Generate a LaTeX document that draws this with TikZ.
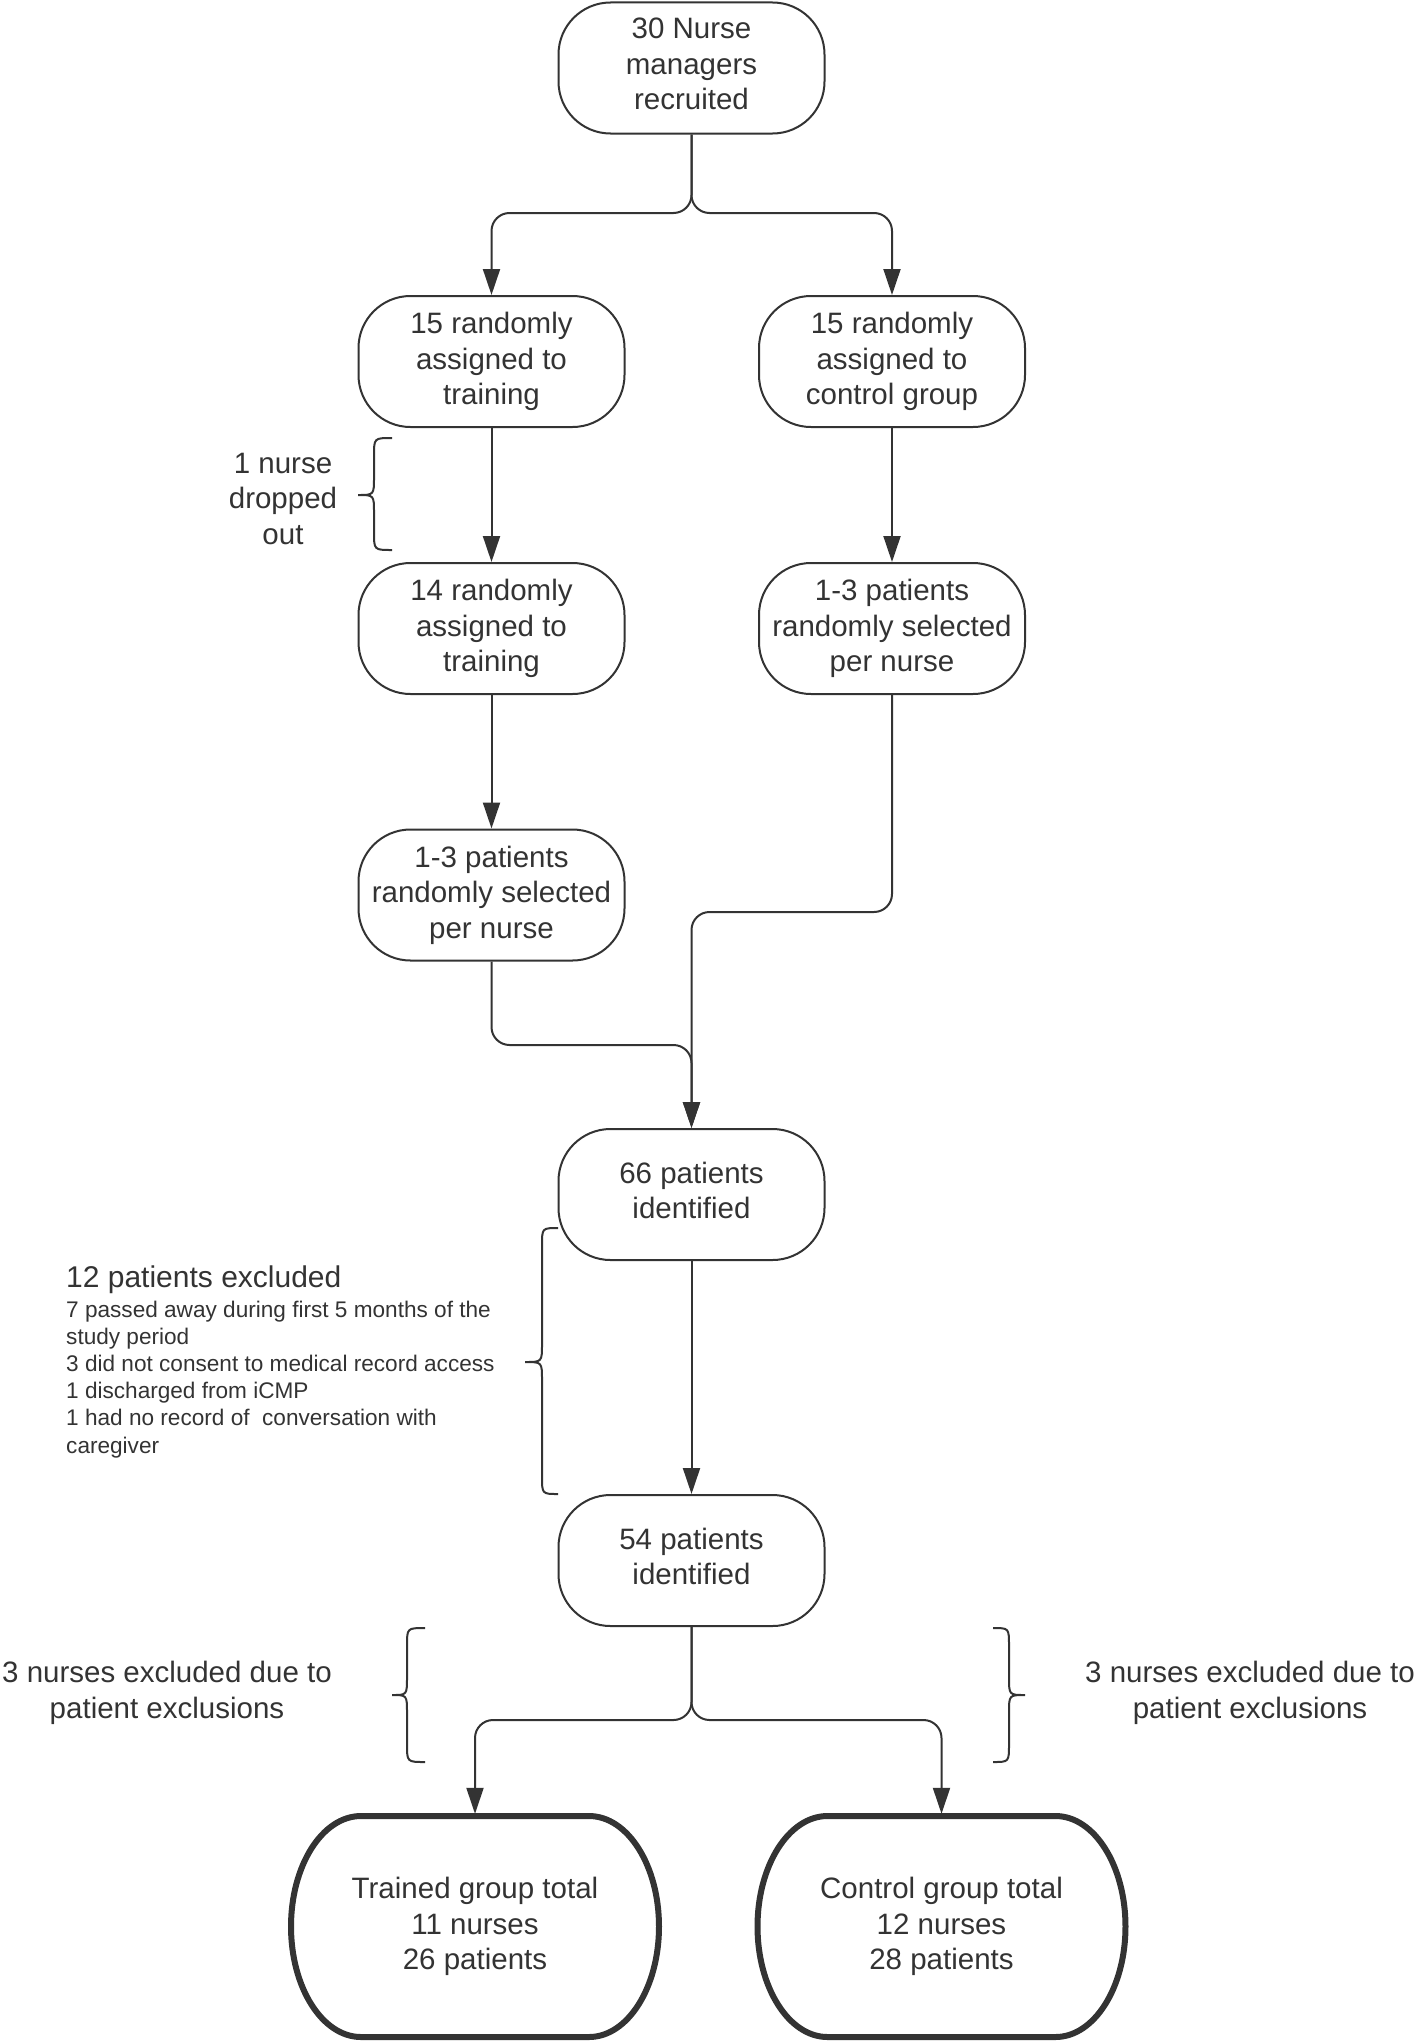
\documentclass[tikz,border=0pt]{standalone}
\usepackage{fontspec}
\setmainfont{Liberation Sans}
\usetikzlibrary{arrows.meta}
\definecolor{ink}{HTML}{333333}
\newcommand\dgmMain{\fontsize{29.5}{35.5}\selectfont}
\newcommand\dgmNote{\fontsize{22.6}{27.2}\selectfont}
\newcommand\dgmTitle{\fontsize{30}{36}\selectfont}
\newcommand\dgmDeep{\rule[-8pt]{0pt}{0pt}}
\newcommand\dgmBrace[6]{%
  \draw[bracestyle] (#1,#4) .. controls (#2,#4) .. (#2,#4+18)
    -- (#2,#5-18) .. controls (#2,#5) .. (#3,#5)
    .. controls (#2,#5) .. (#2,#5+18)
    -- (#2,#6-18) .. controls (#2,#6) .. (#1,#6);}
% elliptic-cornered thick box outline: center x, center y
\newcommand\dgmTotalOutline[2]{%
  \draw[draw=ink, line width=6pt]
    (#1-114,#2-110.5) -- (#1+114,#2-110.5)
    arc[start angle=90, end angle=-90, x radius=70pt, y radius=110.5pt]
    -- (#1-114,#2+110.5)
    arc[start angle=270, end angle=90, x radius=70pt, y radius=110.5pt]
    -- cycle;}
\begin{document}
\begin{tikzpicture}[x=1pt,y=-1pt,
  box/.style={draw=ink, line width=2pt, rounded corners=52pt,
    minimum width=266pt, minimum height=131pt, inner sep=0pt,
    align=center, text=ink, font=\dgmMain},
  totalbox/.style={minimum width=368pt, minimum height=221pt, inner sep=0pt,
    align=center, text=ink, font=\dgmMain},
  conn/.style={draw=ink, line width=2pt, rounded corners=18pt,
    -{Triangle[length=26pt,width=17pt]}},
  bracestyle/.style={draw=ink, line width=2pt},
  label/.style={text=ink, font=\dgmMain, align=center, inner sep=0pt}]
\useasboundingbox (0,0) rectangle (1417,2042);

% nodes
\node[box] (n1) at (691.5,68) {30 Nurse\\managers\\recruited\dgmDeep};
\node[box] (n2) at (491.5,361.5) {15 randomly\\assigned to\\training};
\node[box] (n3) at (892,361.5) {15 randomly\\assigned to\\control group};
\node[box] (n4) at (491.5,628.5) {14 randomly\\assigned to\\training};
\node[box] (n5) at (892,628.5) {1-3 patients\\randomly selected\\per nurse};
\node[box] (n6) at (491.5,895) {1-3 patients\\randomly selected\\per nurse};
\node[box] (n7) at (691.5,1194.5) {66 patients\\identified\dgmDeep};
\node[box] (n8) at (691.5,1560.5) {54 patients\\identified\dgmDeep};
\node[totalbox] (n9) at (475,1926.5) {Trained group total\\11 nurses\\26 patients};
\node[totalbox] (n10) at (941.5,1926.5) {Control group total\\12 nurses\\28 patients};
\dgmTotalOutline{475}{1926.5}
\dgmTotalOutline{941.5}{1926.5}

% junction points
\coordinate (j1) at (691.5,213);
\coordinate (j2) at (691.5,1045);
\coordinate (j3) at (691.5,912);
\coordinate (j4) at (691.5,1720);

% connectors
\draw[conn] (n1.south) -- (j1) -| (n2.north);
\draw[conn] (n1.south) -- (j1) -| (n3.north);
\draw[conn] (n2) -- (n4);
\draw[conn] (n3) -- (n5);
\draw[conn] (n4) -- (n6);
\draw[conn] (n6.south) |- (j2) -- (n7.north);
\draw[conn] (n5.south) |- (j3) -- (n7.north);
\draw[conn] (n7) -- (n8);
\draw[conn] (n8.south) -- (j4) -| ([yshift=2pt]n9.north);
\draw[conn] (n8.south) -- (j4) -| ([yshift=2pt]n10.north);

% braces
\dgmBrace{392}{374}{358}{438}{495}{550}
\dgmBrace{558}{542}{525}{1228}{1362}{1494}
\dgmBrace{425}{407}{392}{1628}{1695}{1762}
\dgmBrace{993}{1009}{1025}{1628}{1695}{1762}

% labels
\node[label] (drop) at (283,498.5) {1 nurse\\dropped\\out};
\node[label] (exL) at (167,1693) {3 nurses excluded due to\\patient exclusions};
\node[label] (exR) at (1250,1693) {3 nurses excluded due to\\patient exclusions};
\node[text=ink, font=\dgmTitle, inner sep=0pt, anchor=base west] (extitle) at (66,1287) {12 patients excluded};
\node[text=ink, font=\dgmNote, inner sep=0pt, anchor=north west, align=left] (exlist) at (66,1300.5)
  {7 passed away during first 5 months of the\\study period\\3 did not consent to medical record access\\1 discharged from iCMP\\1 had no record of~ conversation with\\caregiver};
\end{tikzpicture}
\end{document}
